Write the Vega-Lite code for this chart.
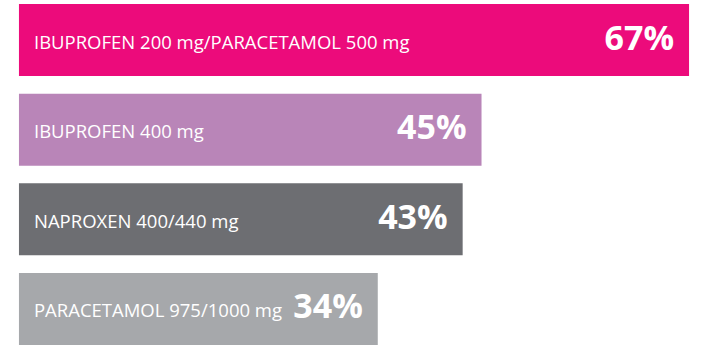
{
  "$schema": "https://vega.github.io/schema/vega-lite/v6.json",
  "width": 728,
  "height": 364,
  "autosize": "none",
  "padding": 0,
  "background": "white",
  "config": {"view": {"stroke": null}},
  "data": {
    "values": [
      {"name": "IBUPROFEN 200 mg/PARACETAMOL 500 mg", "value": 67, "label": "67%"},
      {"name": "IBUPROFEN 400 mg", "value": 45, "label": "45%"},
      {"name": "NAPROXEN 400/440 mg", "value": 43, "label": "43%"},
      {"name": "PARACETAMOL 975/1000 mg", "value": 34, "label": "34%"}
    ]
  },
  "encoding": {
    "y": {
      "field": "name",
      "type": "nominal",
      "sort": null,
      "axis": null,
      "scale": {"range": [4, 345], "paddingInner": 0.197, "paddingOuter": 0}
    }
  },
  "layer": [
    {
      "mark": {"type": "bar"},
      "encoding": {
        "x": {"field": "value", "type": "quantitative", "axis": null, "scale": {"domain": [-6.05, 71.13], "zero": false, "nice": false}},
        "x2": {"datum": -4.04},
        "color": {
          "field": "name",
          "type": "nominal",
          "sort": null,
          "legend": null,
          "scale": {"range": ["#EC0B7B", "#B985B8", "#6D6E72", "#A6A8AB"]}
        }
      }
    },
    {
      "mark": {"type": "text", "align": "left", "baseline": "alphabetic", "dx": 15, "dy": 8.5, "font": "Open Sans", "fontSize": 18.5, "color": "white"},
      "encoding": {
        "x": {"datum": -4.04, "type": "quantitative"},
        "text": {"field": "name"}
      }
    },
    {
      "mark": {"type": "text", "align": "right", "baseline": "alphabetic", "dx": -15, "dy": 9.5, "font": "Open Sans", "fontSize": 34, "fontWeight": "bold", "color": "white"},
      "encoding": {
        "x": {"field": "value", "type": "quantitative"},
        "text": {"field": "label"}
      }
    }
  ]
}
